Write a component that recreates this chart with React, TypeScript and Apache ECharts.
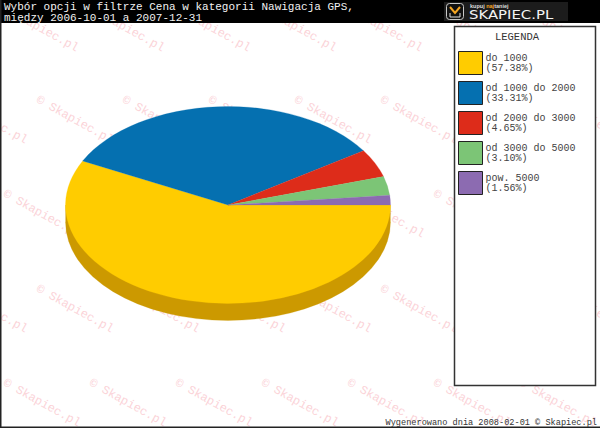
import React, { useEffect, useRef } from "react";
import * as echarts from "echarts";

const categories = ["do 1000", "od 1000 do 2000", "od 2000 do 3000", "od 3000 do 5000", "pow. 5000"];
const shares = [57.38, 33.31, 4.65, 3.1, 1.56];
const colors = ["#FFCC00", "#0570B0", "#DD2C1A", "#7CC576", "#8C6BB1"];
const sideColor = "#CC9900";
const titleLines = ["Wybór opcji w filtrze Cena w kategorii Nawigacja GPS,", "między 2006-10-01 a 2007-12-31"];
const footer = "Wygenerowano dnia 2008-02-01 © Skapiec.pl";
const watermarkRows = [[9, 5], [101, 40], [195, 7], [290, 40], [384, 7]];

const MONO = "'Liberation Mono', monospace";
const CX = 228, CY = 205, RX = 162.5, RY = 98.5, DEPTH = 17;
const TOTAL = shares.reduce((a, b) => a + b, 0);

function startOf(i: number) {
  return shares.slice(0, i).reduce((a, b) => a + b, 0);
}

function renderSlice(params: any, api: any) {
  const i = params.seriesIndex;
  const start = (startOf(i) / TOTAL) * Math.PI * 2;
  const end = start + (api.value(0) / TOTAL) * Math.PI * 2;
  const slice = (y: number, a: number, b: number, fill: string) => ({
    type: "sector",
    x: CX,
    y,
    scaleY: RY / RX,
    shape: { cx: 0, cy: 0, r0: 0, r: RX, startAngle: a, endAngle: b, clockwise: true },
    style: { fill, stroke: fill, lineWidth: 0.3 },
  });
  const children: any[] = [];
  if (i === 0) {
    children.push(slice(CY + DEPTH, 0, Math.PI, sideColor));
    children.push({
      type: "rect",
      shape: { x: CX - RX, y: CY, width: RX * 2, height: DEPTH },
      style: { fill: sideColor },
    });
  }
  children.push(slice(CY, start, end, api.visual("color")));
  return { type: "group", children };
}

function watermarks() {
  const out: any[] = [];
  for (const [y, x0] of watermarkRows) {
    for (let x = x0 > 20 ? x0 - 86 : x0; x < 600; x += 86) {
      out.push({
        type: "text",
        x: x - 0.25,
        y: y - 7,
        rotation: (-29 * Math.PI) / 180,
        z: 1,
        silent: true,
        style: { text: "© Skapiec.pl", fill: "#FBD3D8", font: `12px ${MONO}`, textVerticalAlign: "top" },
      });
    }
  }
  return out;
}

export default function App() {
  const ref = useRef<HTMLDivElement>(null);
  useEffect(() => {
    document.body.style.margin = "0";
    const chart = echarts.init(ref.current!, undefined, { renderer: "svg" });
    chart.setOption({
      animation: false,
      backgroundColor: "#FFFFFF",
      title: {
        text: titleLines.join("\n"),
        left: 4,
        top: 2,
        padding: 0,
        z: 6,
        textStyle: { color: "#F2F2F2", fontFamily: MONO, fontSize: 11, fontWeight: "normal", lineHeight: 10.5 },
      },
      legend: {
        orient: "vertical",
        left: 458,
        top: 51,
        padding: 0,
        itemGap: 6,
        itemWidth: 24,
        itemHeight: 23,
        icon: "rect",
        data: categories,
        itemStyle: { borderColor: "#222222", borderWidth: 1 },
        selectedMode: false,
        formatter: (name: string) => `${name}\n(${shares[categories.indexOf(name)].toFixed(2)}%)`,
        textStyle: { color: "#444444", fontFamily: MONO, fontSize: 10, lineHeight: 10, padding: [2, 0, 0, -2] },
        z: 6,
      },
      series: categories.map((name, i) => ({
        type: "custom",
        name,
        coordinateSystem: "none",
        renderItem: renderSlice,
        data: [[shares[i]]],
        itemStyle: { color: colors[i] },
        z: 3,
        silent: true,
      })),
      graphic: [
        ...watermarks(),
        { type: "rect", z: 2, shape: { x: 0, y: 0, width: 600, height: 23 }, style: { fill: "#000000" } },
        { type: "rect", z: 2, shape: { x: 0, y: 0, width: 1.5, height: 428 }, style: { fill: "#222222" } },
        { type: "rect", z: 2, shape: { x: 0, y: 426.5, width: 600, height: 1.5 }, style: { fill: "#222222" } },
        {
          type: "rect",
          z: 4,
          shape: { x: 454.5, y: 26.5, width: 141, height: 359 },
          style: { fill: "#FFFFFF", stroke: "#333333", lineWidth: 1.5 },
        },
        {
          type: "text",
          z: 5,
          x: 517,
          y: 31,
          style: { text: "LEGENDA", fill: "#333333", font: `10.5px ${MONO}`, textAlign: "center", textVerticalAlign: "top" },
        },
        {
          type: "text",
          z: 5,
          x: 597,
          y: 418,
          style: { text: footer, fill: "#333333", font: `8.6px ${MONO}`, textAlign: "right", textVerticalAlign: "top" },
        },
        { type: "rect", z: 3, shape: { x: 444, y: 2, width: 124, height: 19 }, style: { fill: "#1C1C1C" } },
        {
          type: "rect",
          z: 4,
          shape: { x: 446.5, y: 3.5, width: 17, height: 16, r: 3 },
          style: { fill: "#111111", stroke: "#C8C8C8", lineWidth: 1 },
        },
        {
          type: "polyline",
          z: 5,
          shape: { points: [[450, 7], [455, 13], [460, 7]] },
          style: { stroke: "#F5A623", lineWidth: 2, fill: "none" },
        },
        {
          type: "polyline",
          z: 5,
          shape: { points: [[450, 13], [450, 17], [460, 17], [460, 13]] },
          style: { stroke: "#E0E0E0", lineWidth: 1, fill: "none" },
        },
        {
          type: "text",
          z: 5,
          x: 469,
          y: 8.5,
          scaleX: 1.24,
          style: {
            text: "SKAPIEC.PL",
            fill: "#F4F4F4",
            font: "12px 'DejaVu Sans'",
            textVerticalAlign: "top",
          },
        },
        {
          type: "text",
          z: 5,
          x: 470,
          y: 3,
          style: {
            text: "kupuj {o|naj}taniej",
            fill: "#DDDDDD",
            font: "bold 5.5px 'Liberation Sans'",
            textVerticalAlign: "top",
            rich: { o: { fill: "#F5A623", font: "bold 5.5px 'Liberation Sans'" } },
          },
        },
      ],
    });
    return () => chart.dispose();
  }, []);
  return <div ref={ref} style={{ width: 600, height: 428 }} />;
}
